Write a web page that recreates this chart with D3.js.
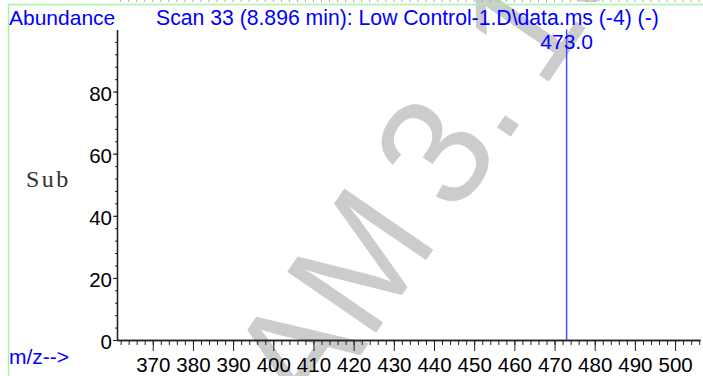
<!DOCTYPE html>
<html>
<head>
<meta charset="utf-8">
<script src="https://cdn.jsdelivr.net/npm/d3@7"></script>
<style>
  html, body { margin: 0; padding: 0; background: #fff; overflow: hidden; }
  svg { display: block; }
</style>
</head>
<body>
<svg id="chart" width="703" height="376"></svg>
<script>
// Spectrum data: one ion peak
const peakMz = [473.0];
const peakAbundance = [100];
const peakLabels = ["473.0"];

// Axis ticks
const xMajorTicks = [370, 380, 390, 400, 410, 420, 430, 440, 450, 460, 470, 480, 490, 500];
const xMinorTicks = d3.range(362, 507, 2);
const yMajorTicks = [0, 20, 40, 60, 80];
const yMinorTicks = d3.range(0, 97, 4);

// Text
const titleText = "Scan 33 (8.896 min): Low Control-1.D\\data.ms (-4) (-)";
const yAxisTitle = "Abundance";
const xAxisTitle = "m/z-->";
const sideLabel = "Sub";
const stampText = "AM 3. 10";

const svg = d3.select("#chart");
const sans = "'Liberation Sans', Arial, Helvetica, sans-serif";
const blue = "#0000ff";

const x = d3.scaleLinear().domain([361.1, 506.2]).range([117, 700]);
const y = d3.scaleLinear().domain([0, 100]).range([340, 29.5]);

// background stamp, beneath everything else
svg.append("text")
  .attr("transform", "translate(312,426) rotate(-55.5) scale(1.04,1.08)")
  .attr("font-family", sans)
  .attr("font-size", 145)
  .attr("word-spacing", -14)
  .attr("fill", "#cccccc")
  .text(stampText);

// frame edges of the report panel
svg.append("line").attr("x1", 8.5).attr("x2", 8.5).attr("y1", 4).attr("y2", 376)
  .attr("stroke", "#a8f2a8").attr("stroke-width", 1.5);
svg.append("line").attr("x1", 8).attr("x2", 703).attr("y1", 4.5).attr("y2", 4.5)
  .attr("stroke", "#a8f2a8").attr("stroke-width", 1.5);

// tick marks of the panel above, just visible at the top edge
svg.append("g").selectAll("line").data(xMinorTicks).join("line")
  .attr("x1", d => x(d)).attr("x2", d => x(d))
  .attr("y1", 0).attr("y2", 2)
  .attr("stroke", "#aaaaaa").attr("stroke-width", 1);

// x axis
const xMinorAxis = d3.axisBottom(x).tickValues(xMinorTicks).tickSize(5).tickSizeOuter(0).tickFormat("");
const xMajorAxis = d3.axisBottom(x).tickValues(xMajorTicks).tickSize(11).tickSizeOuter(0).tickPadding(6);
const gxMinor = svg.append("g").attr("transform", `translate(0,${y(0)})`).call(xMinorAxis);
const gx = svg.append("g").attr("transform", `translate(0,${y(0)})`).call(xMajorAxis);

// y axis
const yMinorAxis = d3.axisLeft(y).tickValues(yMinorTicks).tickSize(2).tickSizeOuter(0).tickFormat("");
const yMajorAxis = d3.axisLeft(y).tickValues(yMajorTicks).tickSize(4).tickSizeOuter(0).tickPadding(1);
const gyMinor = svg.append("g").attr("transform", `translate(${x.range()[0]},0)`).call(yMinorAxis);
const gy = svg.append("g").attr("transform", `translate(${x.range()[0]},0)`).call(yMajorAxis);

[gxMinor, gx, gyMinor, gy].forEach(g => {
  g.selectAll("path.domain").attr("stroke", "#222").attr("stroke-width", 1.3);
  g.selectAll(".tick line").attr("stroke", "#222").attr("stroke-width", 1);
  g.selectAll(".tick text").attr("font-family", sans).attr("font-size", 20.5).attr("fill", "#000");
});
gy.selectAll(".tick text").attr("dy", "0.43em");

// peaks
svg.append("g").selectAll("line").data(peakMz).join("line")
  .attr("x1", d => x(d)).attr("x2", d => x(d))
  .attr("y1", y(0)).attr("y2", (d, i) => y(peakAbundance[i]))
  .attr("stroke", "#4a4aff").attr("stroke-width", 1.5);

svg.append("g").selectAll("text").data(peakMz).join("text")
  .attr("x", d => x(d)).attr("y", 49)
  .attr("text-anchor", "middle")
  .attr("font-family", sans).attr("font-size", 21).attr("fill", blue)
  .text((d, i) => peakLabels[i]);

// titles
svg.append("text").attr("x", 9).attr("y", 25)
  .attr("font-family", sans).attr("font-size", 21).attr("fill", blue)
  .text(yAxisTitle);
svg.append("text").attr("x", 156).attr("y", 25)
  .attr("font-family", sans).attr("font-size", 21.2).attr("fill", blue)
  .text(titleText);
svg.append("text").attr("x", 9).attr("y", 364)
  .attr("font-family", sans).attr("font-size", 21).attr("fill", blue)
  .text(xAxisTitle);

svg.append("text").attr("x", 26).attr("y", 186.5)
  .attr("font-family", "'Liberation Serif', 'Times New Roman', serif")
  .attr("font-size", 24).attr("letter-spacing", 2.5).attr("fill", "#333")
  .text(sideLabel);
</script>
</body>
</html>
